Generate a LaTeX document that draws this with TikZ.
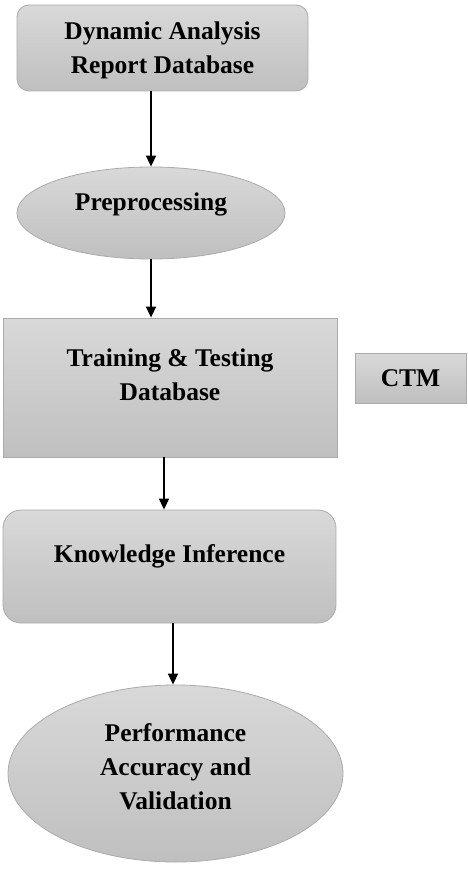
\documentclass[tikz,border=0pt]{standalone}
\usepackage{fontspec}
\setmainfont{Liberation Serif}
\usetikzlibrary{shapes.geometric,arrows.meta}
\begin{document}
\begin{tikzpicture}[x=1pt,y=-1pt,
  boxfill/.style={shade, top color=black!15, bottom color=black!25, draw=black!33, line width=0.8pt},
  rbox/.style={boxfill, rectangle, rounded corners=12pt, inner sep=0pt},
  sbox/.style={boxfill, rectangle, inner sep=0pt},
  ell/.style={boxfill, ellipse, inner sep=0pt},
  txt/.style={align=center, font=\fontsize{25.5}{34}\selectfont\bfseries, text=black, inner sep=0pt},
  arr/.style={line width=1.6pt, -{Triangle[width=10pt,length=11pt]}}
]
\useasboundingbox (0,0) rectangle (467,877);
\node[rbox, minimum width=291pt, minimum height=86pt] (db) at (162.5,48) {};
\node[txt] (dbt) at (162.5,50) {Dynamic Analysis\\Report Database};
\node[ell, minimum width=268pt, minimum height=92pt] (pre) at (151,213) {};
\node[txt] (pret) at (151,204) {Preprocessing};
\node[sbox, minimum width=334pt, minimum height=139pt] (ttd) at (170,387.5) {};
\node[txt] (ttdt) at (170,375) {Training \& Testing\\Database};
\node[sbox, minimum width=111pt, minimum height=50pt] (ctm) at (410.5,378) {};
\node[txt] (ctmt) at (410.5,378) {CTM};
\node[rbox, rounded corners=18pt, minimum width=333pt, minimum height=113pt] (ki) at (169.5,566.5) {};
\node[txt] (kit) at (169.5,556) {Knowledge Inference};
\node[ell, minimum width=335pt, minimum height=177pt] (pav) at (175.5,773.5) {};
\node[txt] (pavt) at (175.5,767) {Performance\\Accuracy and\\Validation};
\draw[arr] (db.south -| pre.north) -- (pre.north);
\draw[arr] (pre.south) -- (pre.south |- ttd.north);
\draw[arr] ([xshift=-6pt]ttd.south) -- ([xshift=-6pt]ttd.south |- ki.north);
\draw[arr] ([xshift=3.5pt]ki.south) -- ([xshift=3.5pt]ki.south |- pav.north);
\end{tikzpicture}
\end{document}
